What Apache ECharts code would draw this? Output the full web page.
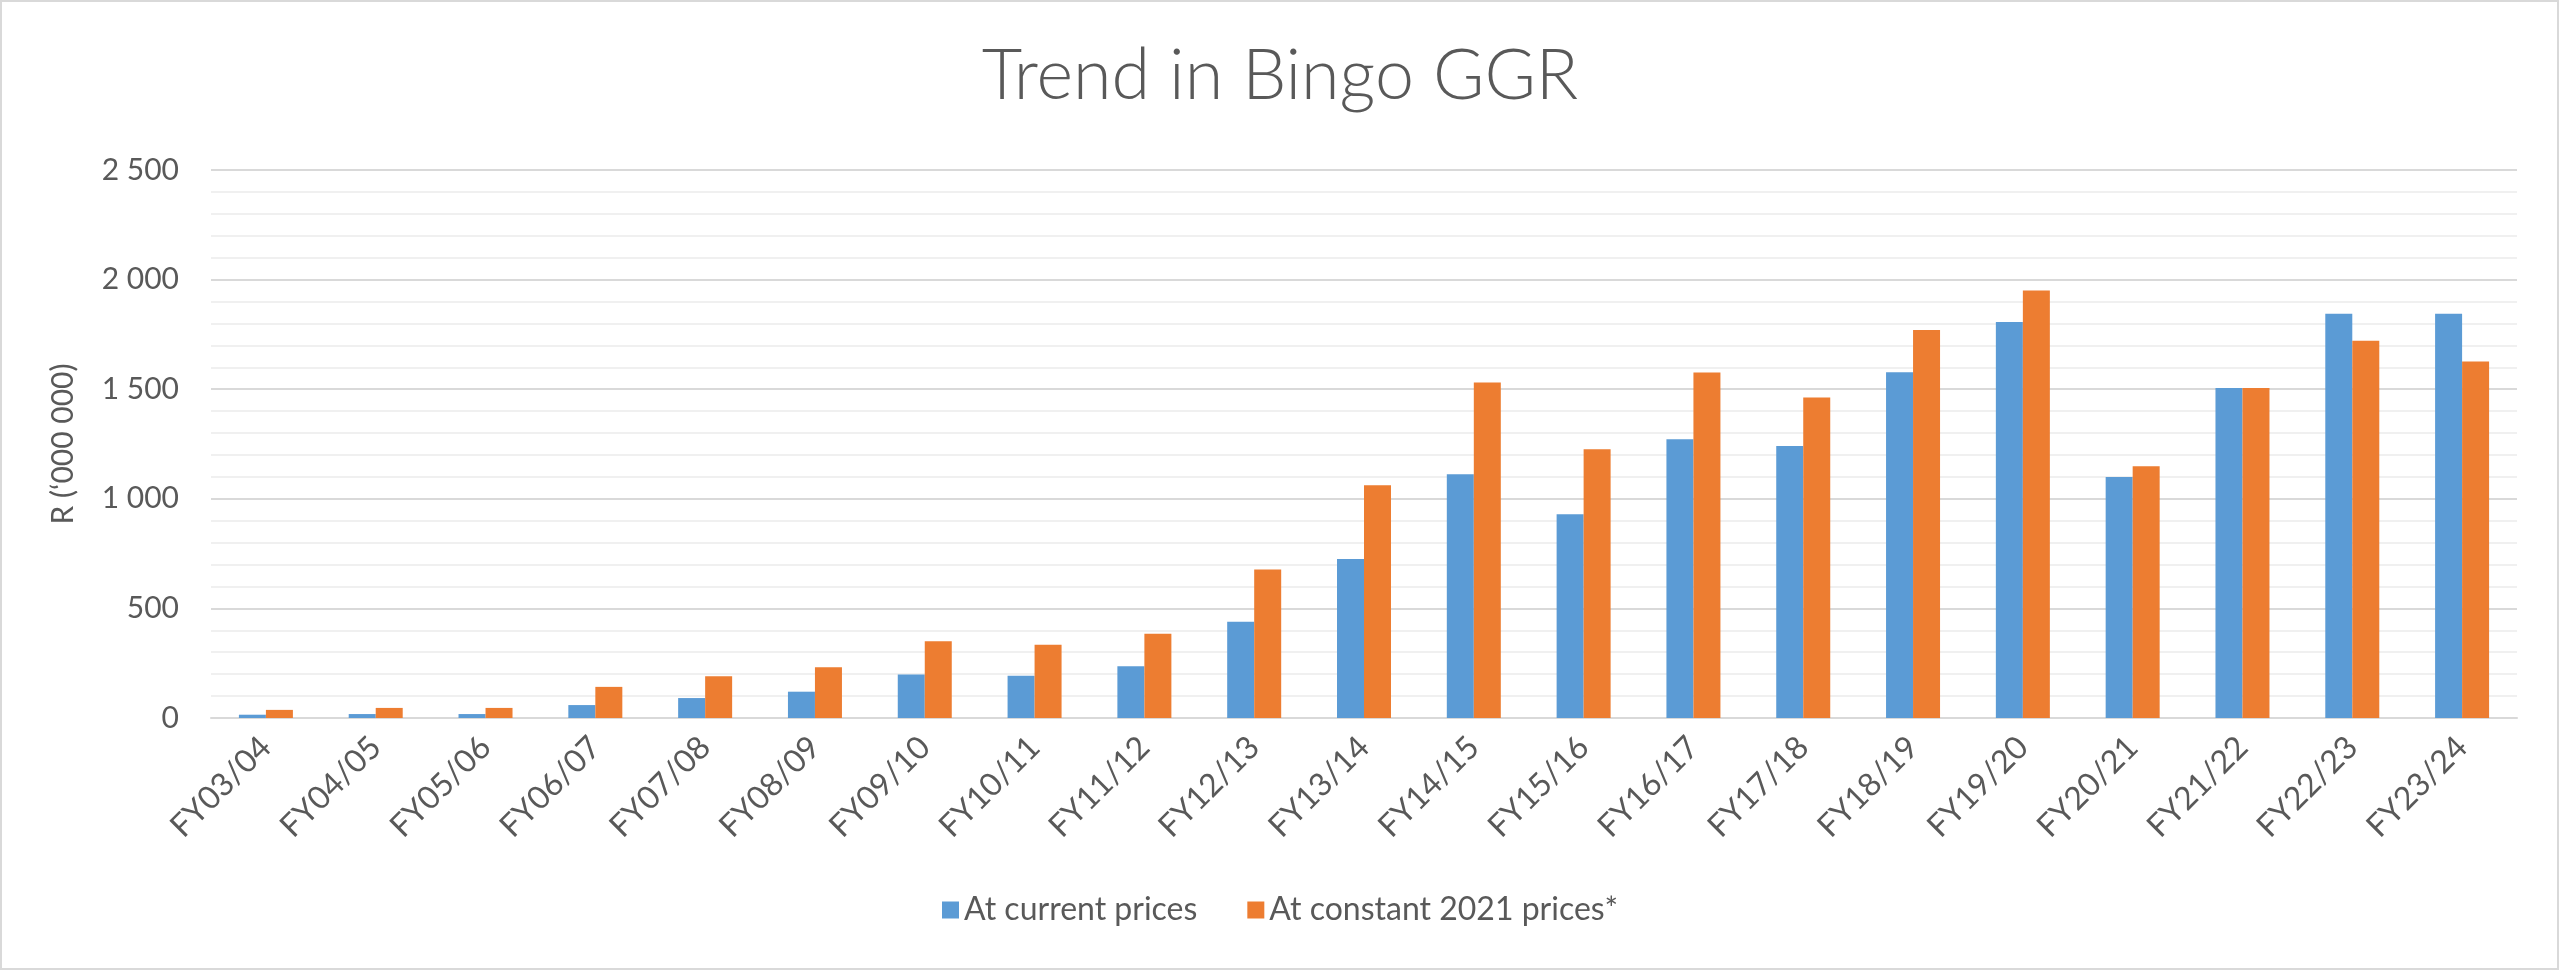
<!DOCTYPE html>
<html>
<head>
<meta charset="utf-8">
<script src="https://cdn.jsdelivr.net/npm/echarts@6/dist/echarts.min.js"></script>
<style>
html,body{margin:0;padding:0;background:#fff;}
#chart{width:2560px;height:971px;}
</style>
</head>
<body>
<div id="chart"></div>
<script>
const categories = ['FY03/04','FY04/05','FY05/06','FY06/07','FY07/08','FY08/09','FY09/10','FY10/11','FY11/12','FY12/13','FY13/14','FY14/15','FY15/16','FY16/17','FY17/18','FY18/19','FY19/20','FY20/21','FY21/22','FY22/23','FY23/24'];
const currentPrices = [15,18,18,59,91,120,198,193,236,439,725,1112,930,1272,1241,1577,1806,1100,1505,1844,1844];
const constantPrices = [37,46,46,142,190,231,350,334,384,677,1062,1530,1226,1576,1462,1770,1950,1148,1505,1721,1626];
const seriesNames = ['At current prices','At constant 2021 prices*'];
const yMin = 0, yMax = 2500, yStep = 500;
const titleText = 'Trend in Bingo GGR';
const yAxisTitle = 'R (\u2018000 000)';

const FONT = 'Lato, "Open Sans", sans-serif';
const TXT = '#595959';

const chart = echarts.init(document.getElementById('chart'), null, {renderer:'canvas'});
chart.setOption({
  backgroundColor:'#ffffff',
  animation:false,
  title:{
    text:titleText,
    left:'center',
    top:36,
    textStyle:{fontFamily:FONT,fontWeight:300,fontSize:70,color:TXT}
  },
  legend:{
    bottom:40,
    left:'center',
    itemWidth:17,
    itemHeight:17,
    itemGap:50,
    icon:'rect',
    textStyle:{fontFamily:FONT,fontSize:32,color:TXT}
  },
  grid:{left:211,right:43,top:170,bottom:253,containLabel:false},
  xAxis:{
    type:'category',
    data:categories,
    axisLine:{show:true,lineStyle:{color:'#d9d9d9',width:2}},
    axisTick:{show:false},
    axisLabel:{rotate:45,interval:0,margin:24,fontFamily:FONT,fontSize:32,color:TXT}
  },
  yAxis:{
    type:'value',
    min:yMin,max:yMax,interval:yStep,
    name:yAxisTitle,
    nameLocation:'middle',
    nameGap:133,
    nameTextStyle:{fontFamily:FONT,fontSize:30,color:TXT},
    axisLine:{show:false},
    axisTick:{show:false},
    axisLabel:{margin:32,fontFamily:FONT,fontSize:30,color:TXT,
      formatter:v=>String(v).replace(/\B(?=(\d{3})+(?!\d))/g,' ')},
    splitLine:{show:true,lineStyle:{color:'#d9d9d9',width:2}},
    minorTick:{show:false,splitNumber:5},
    minorSplitLine:{show:true,lineStyle:{color:'#f0f0f0',width:2}}
  },
  series:[
    {name:seriesNames[0],type:'bar',data:currentPrices,itemStyle:{color:'#5B9BD5'},barWidth:27,barGap:'0%'},
    {name:seriesNames[1],type:'bar',data:constantPrices,itemStyle:{color:'#ED7D31'},barWidth:27,barGap:'0%'}
  ],
  graphic:[{type:'rect',shape:{x:1,y:1,width:2557,height:968},style:{fill:null,stroke:'#d9d9d9',lineWidth:2},silent:true,z:-1}]
});
</script>
</body>
</html>
